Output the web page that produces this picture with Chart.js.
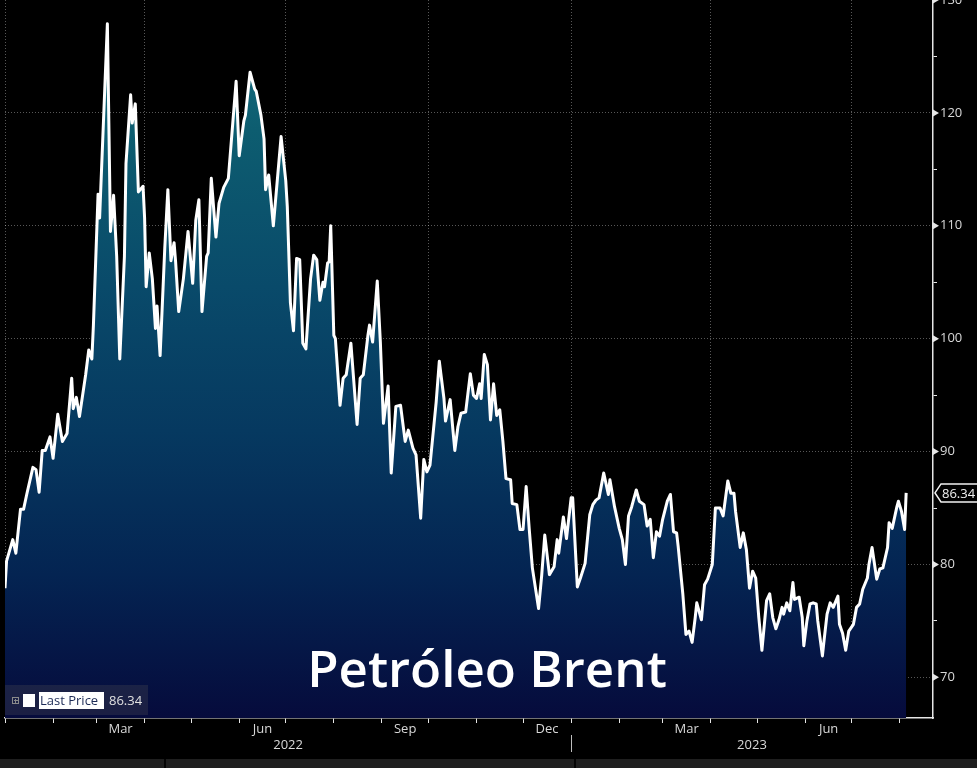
<!DOCTYPE html>
<html>
<head>
<meta charset="utf-8">
<script src="https://cdn.jsdelivr.net/npm/chart.js@4.4.0/dist/chart.umd.min.js"></script>
<style>
    html, body { margin: 0; padding: 0; background: #000; overflow: hidden; }
    canvas { display: block; }
</style>
</head>
<body>
<canvas id="brent" width="977" height="768"></canvas>
<script>
// days counted from 2022-01-01
const priceDays = [
    0, 1, 5, 7, 10, 12, 14, 18, 20, 22,
    24, 26, 29, 31, 34, 37, 40, 43, 44, 46,
    48, 52, 54, 56, 57, 60, 61, 66, 68, 70,
    72, 74, 77, 78, 81, 82, 84, 86, 89, 90,
    91, 93, 95, 97, 98, 100, 103, 105, 107, 109,
    110, 112, 115, 118, 121, 123, 125, 127, 130, 131,
    133, 136, 138, 141, 144, 149, 151, 154, 155, 158,
    161, 162, 165, 167, 168, 170, 173, 178, 181, 182,
    184, 186, 188, 190, 192, 194, 197, 199, 201, 203,
    205, 206, 208, 209, 210, 212, 213, 216, 218, 220,
    223, 227, 229, 231, 234, 235, 237, 240, 242, 244,
    247, 249, 252, 255, 258, 260, 263, 265, 268, 270,
    272, 274, 278, 280, 283, 284, 287, 289, 290, 292,
    294, 297, 300, 302, 304, 306, 307, 309, 311, 313,
    315, 317, 319, 321, 323, 326, 327, 330, 332, 334,
    336, 338, 340, 344, 346, 348, 351, 354, 356, 357,
    360, 362, 365, 366, 369, 371, 374, 377, 379, 381,
    383, 386, 389, 390, 393, 396, 398, 400, 402, 404,
    407, 409, 412, 414, 416, 418, 420, 422, 424, 427,
    429, 431, 433, 434, 437, 439, 441, 443, 445, 446,
    449, 451, 453, 456, 458, 461, 463, 466, 468, 470,
    471, 474, 476, 478, 480, 482, 484, 486, 488, 491,
    493, 495, 497, 499, 501, 502, 504, 506, 508, 509,
    512, 514, 515, 517, 519, 521, 523, 524, 527, 528,
    530, 532, 534, 537, 538, 540, 542, 544, 547, 549,
    551, 553, 556, 557, 559, 562, 564, 566, 569, 570,
    572, 575, 576, 578, 580, 581
];
const prices = [
    77.9, 80.3, 82.2, 81.0, 84.9, 84.9, 86.2, 88.6, 88.4, 86.4,
    90.1, 90.1, 91.3, 89.4, 93.3, 90.9, 91.6, 96.5, 93.8, 94.8,
    93.1, 96.8, 99.0, 98.2, 101.2, 112.8, 110.7, 127.9, 109.5, 112.7,
    107.3, 98.2, 107.3, 115.5, 121.6, 119.1, 120.8, 113.0, 113.5, 110.7,
    104.6, 107.6, 105.3, 100.9, 102.9, 98.5, 108.0, 113.2, 106.9, 108.5,
    106.8, 102.4, 105.3, 109.5, 104.9, 110.5, 112.3, 102.4, 107.3, 107.6,
    114.2, 109.0, 112.0, 113.4, 114.2, 122.8, 116.2, 119.3, 119.8, 123.6,
    122.1, 121.9, 119.8, 117.7, 113.2, 114.5, 110.0, 117.9, 114.0, 111.7,
    103.2, 100.7, 107.1, 107.0, 99.6, 99.1, 105.3, 107.4, 107.0, 103.4,
    105.0, 104.6, 106.7, 106.8, 110.0, 100.3, 100.0, 94.1, 96.5, 96.8,
    99.6, 92.4, 96.5, 96.8, 100.3, 101.2, 99.7, 105.1, 99.7, 92.5,
    95.8, 88.1, 94.0, 94.1, 90.9, 91.9, 90.3, 89.7, 84.1, 89.3,
    88.2, 88.8, 94.4, 98.0, 94.7, 92.7, 94.6, 91.6, 90.1, 92.2,
    93.4, 93.5, 96.9, 95.0, 94.7, 96.0, 94.7, 98.6, 97.7, 92.8,
    96.0, 93.2, 93.7, 90.9, 87.6, 87.5, 85.4, 85.3, 83.1, 83.1,
    86.9, 83.1, 79.7, 76.1, 79.0, 82.6, 79.1, 79.8, 82.2, 81.0,
    84.2, 82.3, 85.9, 85.9, 78.0, 78.8, 80.1, 84.4, 85.3, 85.7,
    85.9, 88.1, 86.2, 87.5, 85.1, 83.2, 82.2, 80.0, 84.3, 85.1,
    86.6, 85.6, 85.3, 83.4, 84.0, 80.6, 82.9, 82.5, 84.0, 85.6,
    86.2, 82.9, 82.8, 81.6, 77.4, 73.8, 74.1, 73.1, 75.3, 76.6,
    75.1, 78.2, 78.7, 80.0, 85.0, 85.0, 84.3, 87.4, 86.3, 86.3,
    84.7, 81.5, 82.8, 81.3, 77.9, 79.4, 78.8, 75.3, 72.4, 76.8,
    77.4, 75.3, 74.3, 75.1, 76.2, 75.6, 76.6, 75.9, 78.4, 76.9,
    77.1, 75.3, 72.8, 75.0, 76.5, 76.6, 76.5, 75.0, 71.9, 73.2,
    75.6, 76.6, 76.2, 77.2, 74.7, 73.9, 72.4, 74.1, 74.7, 76.2,
    76.5, 77.8, 78.8, 80.0, 81.5, 78.7, 79.6, 79.7, 81.5, 83.7,
    83.2, 85.1, 85.6, 84.7, 83.1, 86.34
];

const lastPrice = 86.34;
const seriesName = 'Last Price';
const chartTitle = 'Petróleo Brent';

const monthStartDays = [0, 31, 59, 90, 120, 151, 181, 212, 243, 273, 304, 334,
    365, 396, 424, 455, 485, 516, 546, 577];
const quarterStartDays = [0, 90, 181, 273, 365, 455, 546];
const monthLabelDays = [74.5, 166, 258, 349.5, 439.5, 531];
const monthLabels = ['Mar', 'Jun', 'Sep', 'Dec', 'Mar', 'Jun'];
const yearLabelDays = [182.5, 481.6];
const yearLabels = ['2022', '2023'];
const yearBreakDay = 365;
const yTickValues = [70, 75, 80, 85, 90, 95, 100, 105, 110, 115, 120, 125, 130];

const xMin = 0;
const xMax = 598.3;
const yMin = 66.4;
const yMax = 130;

const fontFamily = '"Open Sans", "Liberation Sans", sans-serif';
const labelColor = '#d8d8d8';
const axisColor = '#e6e6e6';
const gridDot = 'rgba(255,255,255,0.34)';

function areaGradient(context) {
    const { chartArea, ctx } = context.chart;
    if (!chartArea) return null;
    const g = ctx.createLinearGradient(0, chartArea.top, 0, chartArea.bottom);
    g.addColorStop(0, '#187385');
    g.addColorStop(0.18, '#0d5d70');
    g.addColorStop(0.4, '#094a6a');
    g.addColorStop(0.6, '#063960');
    g.addColorStop(0.8, '#042452');
    g.addColorStop(1, '#060b3c');
    return g;
}

const bloombergDecor = {
    id: 'bloombergDecor',
    beforeDraw(chart) {
        const ctx = chart.ctx;
        ctx.save();
        ctx.fillStyle = '#000';
        ctx.fillRect(0, 0, chart.width, chart.height);
        // status strip along the bottom of the terminal window
        ctx.fillStyle = '#1f1f1f';
        ctx.fillRect(0, 759, chart.width, chart.height - 759);
        ctx.fillStyle = '#050505';
        ctx.fillRect(164, 759, 2, chart.height - 759);
        ctx.fillRect(574, 759, 2, chart.height - 759);
        ctx.restore();
    },
    afterDraw(chart) {
        const ctx = chart.ctx;
        const xs = chart.scales.x;
        const ys = chart.scales.y;
        const area = chart.chartArea;
        ctx.save();

        // arrow heads on the major price ticks
        ctx.fillStyle = axisColor;
        yTickValues.filter(v => v % 10 === 0).forEach(v => {
            const py = ys.getPixelForValue(v);
            ctx.beginPath();
            ctx.moveTo(area.right, py - 3.5);
            ctx.lineTo(area.right + 6, py);
            ctx.lineTo(area.right, py + 3.5);
            ctx.closePath();
            ctx.fill();
        });

        // last price tag
        const ty = ys.getPixelForValue(lastPrice);
        ctx.beginPath();
        ctx.moveTo(area.right + 2, ty);
        ctx.lineTo(area.right + 8, ty - 9);
        ctx.lineTo(chart.width + 2, ty - 9);
        ctx.lineTo(chart.width + 2, ty + 9);
        ctx.lineTo(area.right + 8, ty + 9);
        ctx.closePath();
        ctx.fillStyle = '#000';
        ctx.fill();
        ctx.strokeStyle = '#f2f2f2';
        ctx.lineWidth = 1.5;
        ctx.stroke();
        ctx.fillStyle = '#f0f0f0';
        ctx.font = '13px ' + fontFamily;
        ctx.textAlign = 'left';
        ctx.textBaseline = 'middle';
        ctx.fillText(lastPrice.toFixed(2), area.right + 9, ty + 1);

        // year separator below the axis
        const bx = Math.round(xs.getPixelForValue(yearBreakDay)) + 0.5;
        ctx.strokeStyle = '#bdbdbd';
        ctx.lineWidth = 1;
        ctx.beginPath();
        ctx.moveTo(bx, area.bottom + 17);
        ctx.lineTo(bx, area.bottom + 34);
        ctx.stroke();

        // legend block, bottom left
        const lx = area.left;
        const ly = area.bottom - 33;
        ctx.fillStyle = 'rgba(70,70,80,0.35)';
        ctx.fillRect(lx, ly, 143, 30);
        ctx.strokeStyle = '#8a8a8a';
        ctx.lineWidth = 1;
        ctx.strokeRect(lx + 7.5, ly + 12.5, 6, 6);
        ctx.beginPath();
        ctx.moveTo(lx + 9, ly + 15.5); ctx.lineTo(lx + 13, ly + 15.5);
        ctx.moveTo(lx + 10.5, ly + 14); ctx.lineTo(lx + 10.5, ly + 18);
        ctx.stroke();
        ctx.fillStyle = '#ffffff';
        ctx.fillRect(lx + 18, ly + 9, 12, 13);
        ctx.fillRect(lx + 34, ly + 7, 65, 17);
        ctx.fillStyle = '#1c2a55';
        ctx.font = '13px ' + fontFamily;
        ctx.textBaseline = 'middle';
        ctx.fillText(seriesName, lx + 35, ly + 16);
        ctx.fillStyle = '#e0e0e0';
        ctx.fillText(lastPrice.toFixed(2), lx + 104, ly + 16);

        // big caption
        ctx.fillStyle = '#ffffff';
        ctx.font = '600 51px ' + fontFamily;
        ctx.textAlign = 'center';
        ctx.textBaseline = 'alphabetic';
        ctx.fillText(chartTitle, 487, 687);

        ctx.restore();
    }
};

function main() {
    const points = priceDays.map((d, i) => ({ x: d, y: prices[i] }));

    new Chart(document.getElementById('brent'), {
        type: 'line',
        data: {
            datasets: [{
                label: seriesName,
                data: points,
                xAxisID: 'x',
                yAxisID: 'y',
                borderColor: '#ffffff',
                borderWidth: 3,
                borderJoinStyle: 'round',
                pointRadius: 0,
                tension: 0,
                fill: 'start',
                backgroundColor: areaGradient
            }]
        },
        options: {
            responsive: false,
            animation: false,
            devicePixelRatio: 1,
            layout: { autoPadding: false, padding: { left: 5, top: 0, right: 0, bottom: 0 } },
            plugins: { legend: { display: false }, tooltip: { enabled: false }, title: { display: false } },
            scales: {
                x: {
                    type: 'linear', axis: 'x', position: 'bottom', weight: 0, z: 1,
                    min: xMin, max: xMax,
                    afterBuildTicks: s => { s.ticks = monthStartDays.map(v => ({ value: v })); },
                    afterFit: s => { s.height = 5; s.paddingLeft = 0; s.paddingRight = 0; },
                    ticks: { display: false, autoSkip: false },
                    grid: {
                        color: c => (c.tick && quarterStartDays.includes(c.tick.value)) ? gridDot : 'rgba(0,0,0,0)',
                        lineWidth: 1,
                        tickColor: axisColor,
                        tickLength: 5,
                        drawTicks: true
                    },
                    border: { display: true, color: axisColor, width: 1.5, dash: [1, 2] }
                },
                xMonths: {
                    type: 'linear', axis: 'x', position: 'bottom', weight: 1,
                    min: xMin, max: xMax,
                    afterBuildTicks: s => { s.ticks = monthLabelDays.map(v => ({ value: v })); },
                    afterFit: s => { s.height = 14; s.paddingLeft = 0; s.paddingRight = 0; },
                    grid: { display: false, drawTicks: false },
                    border: { display: false },
                    ticks: {
                        autoSkip: false, maxRotation: 0, padding: -2, color: labelColor,
                        font: { family: fontFamily, size: 13 },
                        callback: (v, i) => monthLabels[i]
                    }
                },
                xYears: {
                    type: 'linear', axis: 'x', position: 'bottom', weight: 2,
                    min: xMin, max: xMax,
                    afterBuildTicks: s => { s.ticks = yearLabelDays.map(v => ({ value: v })); },
                    afterFit: s => { s.height = 31; s.paddingLeft = 0; s.paddingRight = 0; },
                    grid: { display: false, drawTicks: false },
                    border: { display: false },
                    ticks: {
                        autoSkip: false, maxRotation: 0, padding: 0, color: labelColor,
                        font: { family: fontFamily, size: 13 },
                        callback: (v, i) => yearLabels[i]
                    }
                },
                y: {
                    type: 'linear', position: 'right', z: 1,
                    min: yMin, max: yMax,
                    afterBuildTicks: s => { s.ticks = yTickValues.map(v => ({ value: v })); },
                    afterFit: s => { s.width = 44; s.paddingTop = 0; s.paddingBottom = 0; },
                    ticks: {
                        autoSkip: false, padding: 3, color: labelColor,
                        font: { family: fontFamily, size: 13 },
                        callback: v => (v % 10 === 0 ? String(v) : '')
                    },
                    grid: {
                        color: c => (c.tick && c.tick.value % 10 === 0 && c.tick.value < yMax) ? gridDot : 'rgba(0,0,0,0)',
                        lineWidth: 1,
                        tickColor: axisColor,
                        tickLength: 4
                    },
                    border: { display: true, color: axisColor, width: 1.5, dash: [1, 2] }
                }
            }
        },
        plugins: [bloombergDecor]
    });
}

window.onload = main;
</script>
</body>
</html>
